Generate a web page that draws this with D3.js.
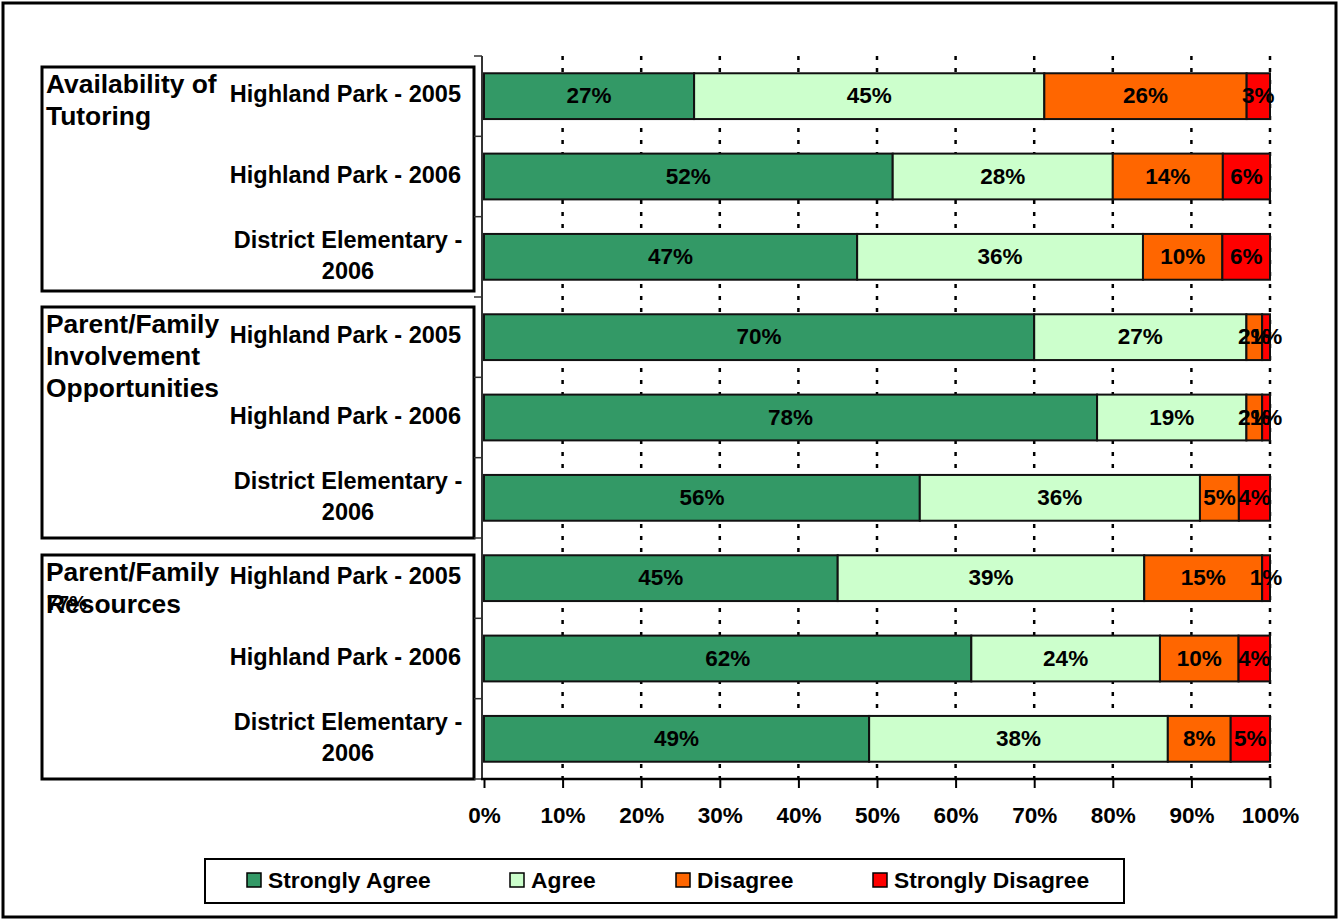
<!DOCTYPE html>
<html>
<head>
<meta charset="utf-8">
<script src="https://cdn.jsdelivr.net/npm/d3@7"></script>
<style>
  html, body { margin: 0; padding: 0; background: #fff; }
  svg { display: block; font-family: "Liberation Sans", Arial, sans-serif; font-weight: bold; }
</style>
</head>
<body>
<svg id="chart" width="1340" height="920"></svg>
<script>
// ---------------- data ----------------
const groupLabels = [
  ["Availability of", "Tutoring"],
  ["Parent/Family", "Involvement", "Opportunities"],
  ["Parent/Family", "Resources"]
];
const categories = ["Highland Park - 2005", "Highland Park - 2006", "District Elementary - 2006"];
const categoryLines = [["Highland Park - 2005"], ["Highland Park - 2006"], ["District Elementary -", "2006"]];
const seriesNames = ["Strongly Agree", "Agree", "Disagree", "Strongly Disagree"];
const stronglyAgree    = [27, 52, 47, 70, 78, 56, 45, 62, 49];
const agree            = [45, 28, 36, 27, 19, 36, 39, 24, 38];
const disagree         = [26, 14, 10,  2,  2,  5, 15, 10,  8];
const stronglyDisagree = [ 3,  6,  6,  1,  1,  4,  1,  4,  5];
const xTickValues = [0, 10, 20, 30, 40, 50, 60, 70, 80, 90, 100];
const strayLabel = "77%";
const seriesColors = ["#339966", "#CCFFCC", "#FF6600", "#FF0000"];

// ---------------- build table ----------------
const seriesValues = [stronglyAgree, agree, disagree, stronglyDisagree];
const rows = [];
groupLabels.forEach((g, gi) => {
  categories.forEach((c, ci) => {
    const i = gi * categories.length + ci;
    const r = { id: i, group: gi, cat: ci, name: c };
    seriesNames.forEach((s, si) => r[s] = seriesValues[si][i]);
    rows.push(r);
  });
});

const svg = d3.select("#chart");
const font = '"Liberation Sans", Arial, sans-serif';

// outer frame
svg.append("rect").attr("x", 3).attr("y", 3).attr("width", 1333).attr("height", 914)
  .attr("fill", "#fff").attr("stroke", "#000").attr("stroke-width", 3);

const plotLeft = 484, plotRight = 1270, plotTop = 56, plotBottom = 779;

const x = d3.scaleLinear().domain([0, 1]).range([plotLeft, plotRight]);
const y = d3.scaleBand().domain(rows.map(d => d.id)).range([plotTop, plotBottom])
  .paddingInner(0.43).paddingOuter(0.215);
const step = y.step();
const color = d3.scaleOrdinal().domain(seriesNames).range(seriesColors);

// gridlines (dotted)
svg.append("g").selectAll("line").data(xTickValues.filter(v => v > 0)).join("line")
  .attr("x1", d => x(d / 100)).attr("x2", d => x(d / 100))
  .attr("y1", plotTop).attr("y2", plotBottom)
  .attr("stroke", "#000").attr("stroke-width", 2.5).attr("stroke-dasharray", "4,8");

// group boxes
const boxInsets = [[11, 6], [10, 0], [17, 0]];
const boxG = svg.append("g");
groupLabels.forEach((g, gi) => {
  const start = plotTop + gi * categories.length * step;
  const end = start + categories.length * step;
  const top = start + boxInsets[gi][0], bottom = end - boxInsets[gi][1];
  boxG.append("rect").attr("x", 42).attr("y", top).attr("width", 432).attr("height", bottom - top)
    .attr("fill", "none").attr("stroke", "#000").attr("stroke-width", 3);
  const t = boxG.append("text").attr("font-size", 26.4).attr("font-family", font).attr("font-weight", "bold");
  g.forEach((line, li) => {
    t.append("tspan").attr("x", 46).attr("y", top + 26 + li * 32).text(line);
  });
  if (gi === 2) {
    boxG.append("text").attr("x", 47).attr("y", top + 55).attr("font-size", 20)
      .attr("font-family", font).attr("font-weight", "bold").text(strayLabel);
  }
});

// category labels
const catG = svg.append("g");
rows.forEach(r => {
  const cy = y(r.id) + y.bandwidth() / 2;
  const lines = categoryLines[r.cat];
  if (lines.length === 1) {
    catG.append("text").attr("x", 461).attr("y", cy + 6).attr("text-anchor", "end")
      .attr("font-size", 23.5).attr("font-family", font).attr("font-weight", "bold").text(lines[0]);
  } else {
    lines.forEach((l, li) => {
      catG.append("text").attr("x", 348).attr("y", cy - 9 + li * 31).attr("text-anchor", "middle")
        .attr("font-size", 23.5).attr("font-family", font).attr("font-weight", "bold").text(l);
    });
  }
});

// stacked bars
const stacked = d3.stack().keys(seriesNames).offset(d3.stackOffsetExpand)(rows);
const layers = svg.append("g").selectAll("g").data(stacked).join("g")
  .attr("fill", d => color(d.key));
layers.selectAll("rect").data(d => d).join("rect")
  .attr("x", d => x(d[0])).attr("width", d => x(d[1]) - x(d[0]))
  .attr("y", d => y(d.data.id)).attr("height", y.bandwidth())
  .attr("stroke", "#111").attr("stroke-width", 2);

// bar value labels
const labelG = svg.append("g");
stacked.forEach(layer => {
  layer.forEach(d => {
    labelG.append("text")
      .attr("x", (x(d[0]) + x(d[1])) / 2)
      .attr("y", y(d.data.id) + y.bandwidth() / 2 + 7)
      .attr("text-anchor", "middle").attr("font-size", 22.5)
      .attr("font-family", font).attr("font-weight", "bold").attr("fill", "#000")
      .text(d.data[layer.key] + "%");
  });
});

// y axis (category boundaries)
const yAxisG = svg.append("g");
yAxisG.append("line").attr("x1", 482).attr("x2", 482).attr("y1", plotTop).attr("y2", plotBottom + 1)
  .attr("stroke", "#333").attr("stroke-width", 2);
d3.range(rows.length + 1).forEach(i => {
  const yy = plotTop + i * step;
  yAxisG.append("line").attr("x1", 474).attr("x2", 482).attr("y1", yy).attr("y2", yy)
    .attr("stroke", "#333").attr("stroke-width", 1.5);
});

// x axis
const xAxis = d3.axisBottom(x).tickValues(xTickValues.map(v => v / 100))
  .tickFormat(d => Math.round(d * 100) + "%").tickSize(9).tickPadding(20);
const xg = svg.append("g").attr("transform", `translate(0,${plotBottom})`).call(xAxis);
xg.select(".domain").attr("stroke", "#000").attr("stroke-width", 2.5)
  .attr("d", `M${481},0H${plotRight}`);
xg.selectAll(".tick line").attr("stroke", "#000").attr("stroke-width", 2);
xg.selectAll(".tick text").attr("font-size", 22.5).attr("font-family", font)
  .attr("font-weight", "bold").attr("fill", "#000").attr("dy", null).attr("y", 44);

// legend
const legend = svg.append("g");
legend.append("rect").attr("x", 205).attr("y", 859).attr("width", 919).attr("height", 44)
  .attr("fill", "#fff").attr("stroke", "#000").attr("stroke-width", 2);
const legendX = [247, 510, 676, 873];
seriesNames.forEach((s, i) => {
  legend.append("rect").attr("x", legendX[i]).attr("y", 873).attr("width", 14).attr("height", 14)
    .attr("fill", color(s)).attr("stroke", "#000").attr("stroke-width", 1.5);
  legend.append("text").attr("x", legendX[i] + 21).attr("y", 888)
    .attr("font-size", 22.8).attr("font-family", font).attr("font-weight", "bold").text(s);
});
</script>
</body>
</html>
